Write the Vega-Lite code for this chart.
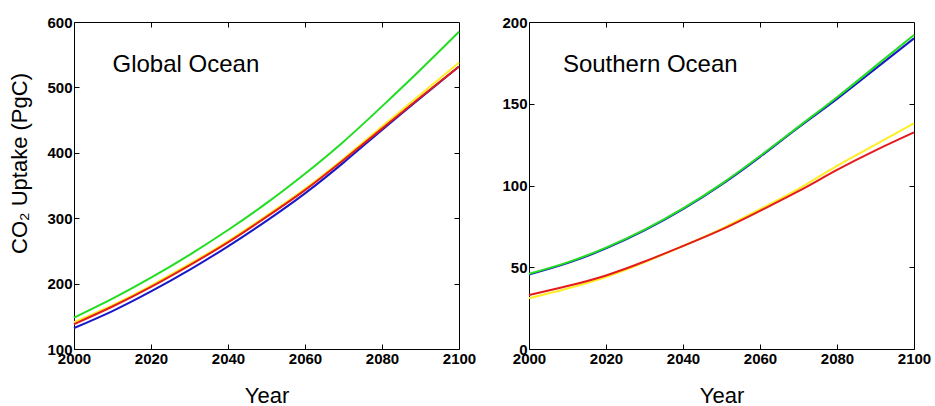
{
  "$schema": "https://vega.github.io/schema/vega-lite/v6.json",
  "background": "white",
  "padding": {"left": 8, "top": 14, "right": 2, "bottom": 0},
  "spacing": 24,
  "datasets": {
    "global": [
      {"series": "A", "year": 2000, "uptake": 132}, {"series": "A", "year": 2010, "uptake": 158}, {"series": "A", "year": 2020, "uptake": 188}, {"series": "A", "year": 2030, "uptake": 221}, {"series": "A", "year": 2040, "uptake": 257}, {"series": "A", "year": 2050, "uptake": 296}, {"series": "A", "year": 2060, "uptake": 338}, {"series": "A", "year": 2070, "uptake": 385}, {"series": "A", "year": 2080, "uptake": 435}, {"series": "A", "year": 2090, "uptake": 484}, {"series": "A", "year": 2100, "uptake": 532},
      {"series": "B", "year": 2000, "uptake": 141}, {"series": "B", "year": 2010, "uptake": 167}, {"series": "B", "year": 2020, "uptake": 197}, {"series": "B", "year": 2030, "uptake": 230}, {"series": "B", "year": 2040, "uptake": 265}, {"series": "B", "year": 2050, "uptake": 304}, {"series": "B", "year": 2060, "uptake": 345}, {"series": "B", "year": 2070, "uptake": 391}, {"series": "B", "year": 2080, "uptake": 440}, {"series": "B", "year": 2090, "uptake": 489}, {"series": "B", "year": 2100, "uptake": 538},
      {"series": "C", "year": 2000, "uptake": 138}, {"series": "C", "year": 2010, "uptake": 165}, {"series": "C", "year": 2020, "uptake": 195}, {"series": "C", "year": 2030, "uptake": 228}, {"series": "C", "year": 2040, "uptake": 263}, {"series": "C", "year": 2050, "uptake": 302}, {"series": "C", "year": 2060, "uptake": 343}, {"series": "C", "year": 2070, "uptake": 389}, {"series": "C", "year": 2080, "uptake": 437}, {"series": "C", "year": 2090, "uptake": 485}, {"series": "C", "year": 2100, "uptake": 532},
      {"series": "D", "year": 2000, "uptake": 148}, {"series": "D", "year": 2010, "uptake": 177}, {"series": "D", "year": 2020, "uptake": 209}, {"series": "D", "year": 2030, "uptake": 244}, {"series": "D", "year": 2040, "uptake": 282}, {"series": "D", "year": 2050, "uptake": 323}, {"series": "D", "year": 2060, "uptake": 368}, {"series": "D", "year": 2070, "uptake": 417}, {"series": "D", "year": 2080, "uptake": 471}, {"series": "D", "year": 2090, "uptake": 527}, {"series": "D", "year": 2100, "uptake": 585}
    ],
    "southern": [
      {"series": "A", "year": 2000, "uptake": 45.5}, {"series": "A", "year": 2010, "uptake": 52.5}, {"series": "A", "year": 2020, "uptake": 61.5}, {"series": "A", "year": 2030, "uptake": 72.5}, {"series": "A", "year": 2040, "uptake": 85.5}, {"series": "A", "year": 2050, "uptake": 100.5}, {"series": "A", "year": 2060, "uptake": 117.5}, {"series": "A", "year": 2070, "uptake": 135.5}, {"series": "A", "year": 2080, "uptake": 153}, {"series": "A", "year": 2090, "uptake": 171.5}, {"series": "A", "year": 2100, "uptake": 190},
      {"series": "B", "year": 2000, "uptake": 31}, {"series": "B", "year": 2010, "uptake": 37}, {"series": "B", "year": 2020, "uptake": 44}, {"series": "B", "year": 2030, "uptake": 53}, {"series": "B", "year": 2040, "uptake": 63}, {"series": "B", "year": 2050, "uptake": 73.5}, {"series": "B", "year": 2060, "uptake": 85.5}, {"series": "B", "year": 2070, "uptake": 98}, {"series": "B", "year": 2080, "uptake": 112}, {"series": "B", "year": 2090, "uptake": 125}, {"series": "B", "year": 2100, "uptake": 138},
      {"series": "C", "year": 2000, "uptake": 33}, {"series": "C", "year": 2010, "uptake": 38.5}, {"series": "C", "year": 2020, "uptake": 45}, {"series": "C", "year": 2030, "uptake": 53.5}, {"series": "C", "year": 2040, "uptake": 63}, {"series": "C", "year": 2050, "uptake": 73}, {"series": "C", "year": 2060, "uptake": 84.5}, {"series": "C", "year": 2070, "uptake": 96.5}, {"series": "C", "year": 2080, "uptake": 109.5}, {"series": "C", "year": 2090, "uptake": 121.5}, {"series": "C", "year": 2100, "uptake": 132.5},
      {"series": "D", "year": 2000, "uptake": 46}, {"series": "D", "year": 2010, "uptake": 53}, {"series": "D", "year": 2020, "uptake": 62}, {"series": "D", "year": 2030, "uptake": 73}, {"series": "D", "year": 2040, "uptake": 86}, {"series": "D", "year": 2050, "uptake": 101}, {"series": "D", "year": 2060, "uptake": 118}, {"series": "D", "year": 2070, "uptake": 136}, {"series": "D", "year": 2080, "uptake": 154}, {"series": "D", "year": 2090, "uptake": 173}, {"series": "D", "year": 2100, "uptake": 192}
    ]
  },
  "config": {
    "view": {"stroke": "black", "strokeWidth": 1},
    "axis": {
      "grid": false,
      "domain": false,
      "tickColor": "black",
      "tickSize": -5,
      "labelFont": "Liberation Sans, Arial",
      "labelFontWeight": "bold",
      "labelFontSize": 15,
      "labelColor": "black",
      "labelFlush": false,
      "labelOverlap": false,
      "labelPadding": 7,
      "titleFont": "Liberation Sans, Arial",
      "titleFontWeight": "normal",
      "titleFontSize": 22,
      "titleColor": "black"
    },
    "text": {"font": "Liberation Sans, Arial", "fontSize": 24, "color": "black"}
  },
  "hconcat": [
    {
      "width": 385,
      "height": 327,
      "layer": [
        {
          "data": {"name": "global"},
          "mark": {"type": "line", "interpolate": "natural", "strokeWidth": 2},
          "encoding": {
            "x": {"field": "year", "type": "quantitative", "scale": {"domain": [2000, 2100], "nice": false}, "axis": {"orient": "bottom", "values": [2000, 2020, 2040, 2060, 2080, 2100], "format": "d", "title": "Year", "titlePadding": 19}},
            "y": {"field": "uptake", "type": "quantitative", "scale": {"domain": [100, 600], "nice": false, "zero": false}, "axis": {"orient": "left", "values": [100, 200, 300, 400, 500, 600], "title": "CO₂ Uptake (PgC)", "titlePadding": 15, "titleY": 141}},
            "color": {"field": "series", "type": "nominal", "scale": {"domain": ["A", "B", "C", "D"], "range": ["#1818c8", "#ffee22", "#e41a1c", "#22dd22"]}, "legend": null},
            "order": {"field": "series"}
          }
        },
        {
          "data": {"name": "global"},
          "mark": {"type": "line", "opacity": 0},
          "encoding": {
            "x": {"field": "year", "type": "quantitative", "axis": {"orient": "top", "values": [2020, 2040, 2060, 2080], "labels": false, "title": null}},
            "y": {"field": "uptake", "type": "quantitative", "axis": {"orient": "right", "values": [200, 300, 400, 500], "labels": false, "title": null}},
            "detail": {"field": "series"}
          }
        },
        {
          "data": {"values": [{"label": "Global Ocean"}]},
          "mark": {"type": "text", "align": "left", "baseline": "alphabetic"},
          "encoding": {
            "x": {"datum": 2010, "type": "quantitative", "axis": null},
            "y": {"datum": 524, "type": "quantitative", "axis": null},
            "text": {"field": "label"}
          }
        }
      ],
      "resolve": {"axis": {"x": "independent", "y": "independent"}}
    },
    {
      "width": 385,
      "height": 327,
      "layer": [
        {
          "data": {"name": "southern"},
          "mark": {"type": "line", "interpolate": "natural", "strokeWidth": 2},
          "encoding": {
            "x": {"field": "year", "type": "quantitative", "scale": {"domain": [2000, 2100], "nice": false}, "axis": {"orient": "bottom", "values": [2000, 2020, 2040, 2060, 2080, 2100], "format": "d", "title": "Year", "titlePadding": 19}},
            "y": {"field": "uptake", "type": "quantitative", "scale": {"domain": [0, 200], "nice": false}, "axis": {"orient": "left", "values": [0, 50, 100, 150, 200], "title": null}},
            "color": {"field": "series", "type": "nominal", "scale": {"domain": ["A", "B", "C", "D"], "range": ["#1a40c0", "#ffee22", "#e41a1c", "#22cc33"]}, "legend": null},
            "order": {"field": "series"}
          }
        },
        {
          "data": {"name": "southern"},
          "mark": {"type": "line", "opacity": 0},
          "encoding": {
            "x": {"field": "year", "type": "quantitative", "axis": {"orient": "top", "values": [2020, 2040, 2060, 2080], "labels": false, "title": null}},
            "y": {"field": "uptake", "type": "quantitative", "axis": {"orient": "right", "values": [50, 100, 150], "labels": false, "title": null}},
            "detail": {"field": "series"}
          }
        },
        {
          "data": {"values": [{"label": "Southern Ocean"}]},
          "mark": {"type": "text", "align": "left", "baseline": "alphabetic"},
          "encoding": {
            "x": {"datum": 2008.8, "type": "quantitative", "axis": null},
            "y": {"datum": 169.4, "type": "quantitative", "axis": null},
            "text": {"field": "label"}
          }
        }
      ],
      "resolve": {"axis": {"x": "independent", "y": "independent"}}
    }
  ]
}
